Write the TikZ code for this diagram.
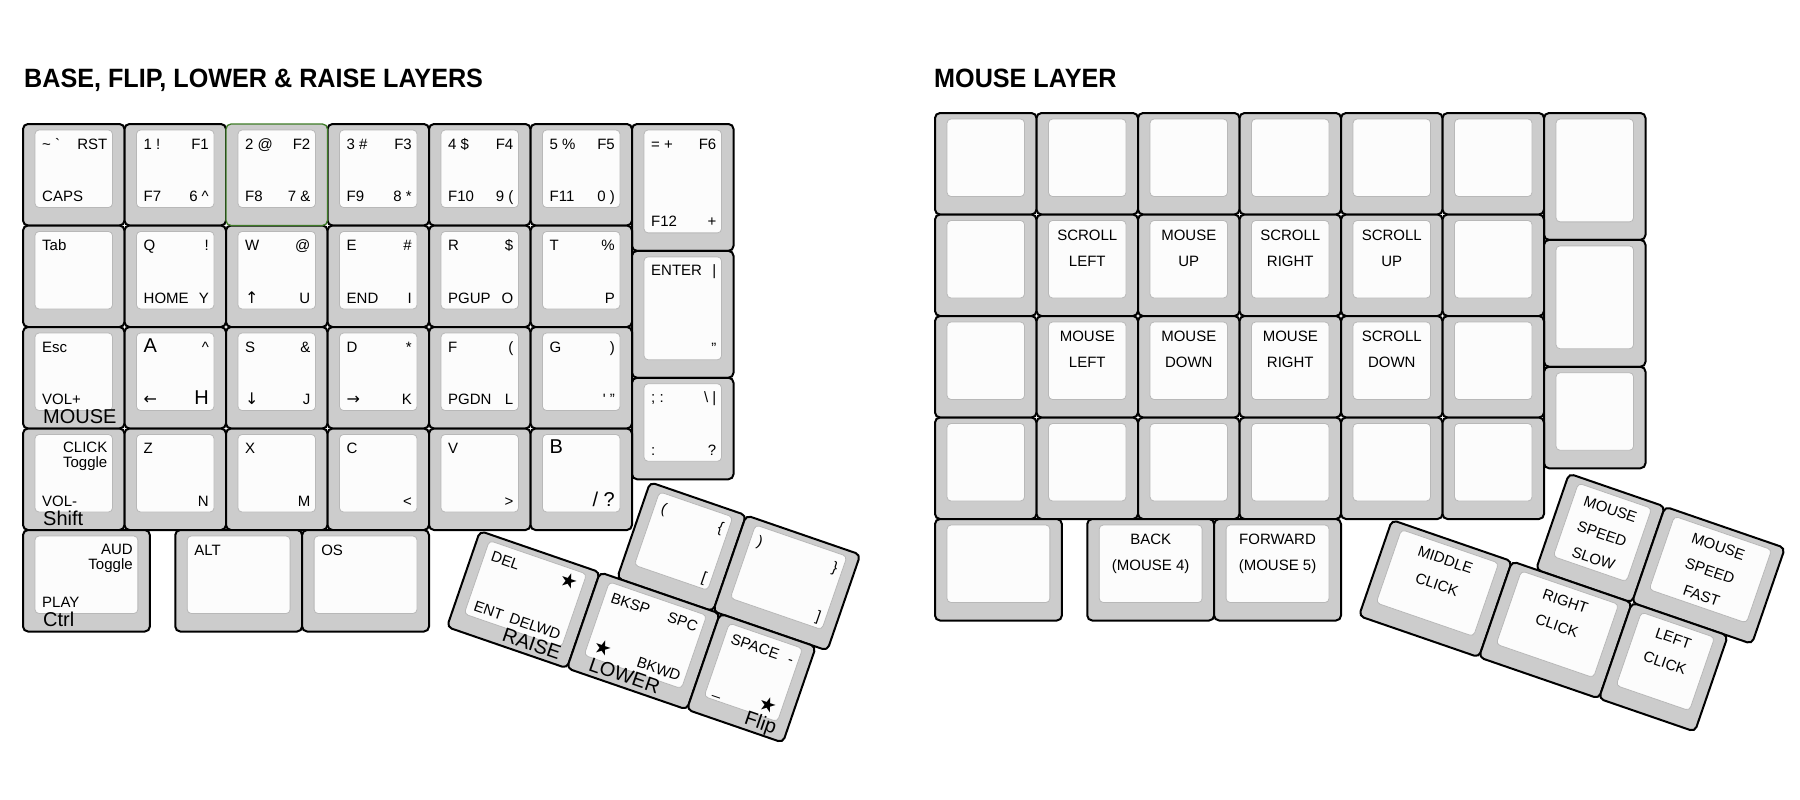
\documentclass[tikz,border=0pt]{standalone}
\usepackage{fontspec}
\usepackage{graphicx}
\setmainfont{Liberation Sans}
\newfontfamily\starfont{DejaVu Sans}
\usepackage{tikz}
\usetikzlibrary{positioning}

\definecolor{capgray}{HTML}{CCCCCC}
\definecolor{topwhite}{HTML}{FCFCFC}
\definecolor{selgreen}{HTML}{3E7B27}

\newcommand{\ku}{101.5}% one key unit, px
% key: [style]{name}{x}{y}{width}{height}{legends}, x/y = top-left corner
\newcommand{\keycap}[7][keybody]{%
  \begin{scope}[shift={(#3,#4)}]
    \pgfmathsetmacro{\kw}{#5*\ku}
    \pgfmathsetmacro{\kh}{#6*\ku}
    \pgfmathsetmacro{\kiw}{\kw-24}
    \pgfmathsetmacro{\kih}{\kh-24}
    \def\kname{#2}
    \node[#1, minimum width=\kw, minimum height=\kh] (#2) at (\kw/2,\kh/2) {};
    \node[keytop, minimum width=\kiw, minimum height=\kih] (#2-top) at (\kw/2,\kh/2-6) {};
    #7
  \end{scope}}
% legends
\newcommand{\lgTL}[2][leg]{\node[#1, anchor=base west] (\kname-tl) at (19,25) {#2};}
\newcommand{\lgTR}[2][leg]{\node[#1, anchor=base east] (\kname-tr) at (\kw-17,25) {#2};}
\newcommand{\lgBL}[2][leg]{\node[#1, anchor=base west] (\kname-bl) at (19,\kh-24) {#2};}
\newcommand{\lgBR}[2][leg]{\node[#1, anchor=base east] (\kname-br) at (\kw-17,\kh-24) {#2};}
\newcommand{\lgFL}[1]{\node[front, anchor=base west] (\kname-fl) at (20,\kh-5) {#1};}
\newcommand{\lgFR}[1]{\node[front, anchor=base east] (\kname-fr) at (\kw-11,\kh-5) {#1};}
\newcommand{\lgTT}[2]{%
  \node[leg, anchor=base east] (\kname-tr) at (\kw-17,24) {#1};
  \node[leg, anchor=base east] (\kname-tr2) at (\kw-17,39) {#2};}
\newcommand{\lgC}[1]{%
  \foreach \lline [count=\ci] in {#1}
    {\node[leg, anchor=base] (\kname-c\ci) at (\kw/2,26*\ci-0.5) {\lline};}}

\begin{document}
\begin{tikzpicture}[
  x=1pt, y=-1pt,
  keybody/.style={rectangle, rounded corners=5pt, fill=capgray, draw=black, line width=2pt, inner sep=0pt, outer sep=0pt},
  keysel/.style={keybody, draw=selgreen, line width=1.3pt},
  keytop/.style={rectangle, rounded corners=4pt, fill=topwhite, draw=black!28, line width=0.8pt, inner sep=0pt},
  leg/.style={inner sep=0pt, text=black, font=\fontsize{15}{15}\selectfont},
  big/.style={leg, font=\fontsize{20}{20}\selectfont},
  front/.style={big},
  arr/.style={leg, font=\starfont\fontsize{16}{16}\selectfont},
  star/.style={leg, font=\starfont\fontsize{20}{20}\selectfont},
  ttl/.style={inner sep=0pt, anchor=base west, font=\fontsize{26.5}{30}\selectfont\bfseries}
]
\fill[white] (0,0) rectangle (1800,800);
\useasboundingbox (0,0) rectangle (1800,800);

% titles
\node[ttl] (title-left)  at (24,87.3)  {\scalebox{0.95}[1]{BASE, FLIP, LOWER \& RAISE LAYERS}};
\node[ttl] (title-right) at (934,87.3) {\scalebox{0.95}[1]{MOUSE LAYER}};

%% left half: base, flip, lower & raise
% row 0
\keycap{k-grave}{23}{124}{1}{1}{\lgTL{\textasciitilde\ \textasciigrave}\lgTR{RST}\lgBL{CAPS}}
\keycap{k-one}{124.5}{124}{1}{1}{\lgTL{1 !}\lgTR{F1}\lgBL{F7}\lgBR{6 \textasciicircum}}
\keycap{k-three}{327.5}{124}{1}{1}{\lgTL{3 \#}\lgTR{F3}\lgBL{F9}\lgBR{8 *}}
\keycap{k-four}{429}{124}{1}{1}{\lgTL{4 \$}\lgTR{F4}\lgBL{F10}\lgBR{9 (}}
\keycap{k-five}{530.5}{124}{1}{1}{\lgTL{5 \%}\lgTR{F5}\lgBL{F11}\lgBR{0 )}}
\keycap{k-equal}{632}{124}{1}{1.25}{\lgTL{= +}\lgTR{F6}\lgBL{F12}\lgBR{+}}
% row 1
\keycap{k-tab}{23}{225.5}{1}{1}{\lgTL{Tab}}
\keycap{k-q}{124.5}{225.5}{1}{1}{\lgTL{Q}\lgTR{!}\lgBL{HOME}\lgBR{Y}}
\keycap{k-w}{226}{225.5}{1}{1}{\lgTL{W}\lgTR{@}\lgBL[arr]{↑}\lgBR{U}}
\keycap{k-e}{327.5}{225.5}{1}{1}{\lgTL{E}\lgTR{\#}\lgBL{END}\lgBR{I}}
\keycap{k-r}{429}{225.5}{1}{1}{\lgTL{R}\lgTR{\$}\lgBL{PGUP}\lgBR{O}}
\keycap{k-t}{530.5}{225.5}{1}{1}{\lgTL{T}\lgTR{\%}\lgBR{P}}
\keycap{k-enter}{632}{250.875}{1}{1.25}{\lgTL{ENTER}\lgTR{|}\lgBR{"}}
% row 2
\keycap{k-esc}{23}{327}{1}{1}{\lgTL{Esc}\lgBL{VOL+}\lgFL{MOUSE}}
\keycap{k-a}{124.5}{327}{1}{1}{\lgTL[big]{A}\lgTR{\textasciicircum}\lgBL[arr]{←}\lgBR[big]{H}}
\keycap{k-s}{226}{327}{1}{1}{\lgTL{S}\lgTR{\&}\lgBL[arr]{↓}\lgBR{J}}
\keycap{k-d}{327.5}{327}{1}{1}{\lgTL{D}\lgTR{*}\lgBL[arr]{→}\lgBR{K}}
\keycap{k-f}{429}{327}{1}{1}{\lgTL{F}\lgTR{(}\lgBL{PGDN}\lgBR{L}}
\keycap{k-g}{530.5}{327}{1}{1}{\lgTL{G}\lgTR{)}\lgBR{\textquotesingle\ "}}
\keycap{k-semi}{632}{377.75}{1}{1}{\lgTL{; :}\lgTR{\textbackslash\ |}\lgBL{:}\lgBR{?}}
% row 3
\keycap{k-shift}{23}{428.5}{1}{1}{\lgTT{CLICK}{Toggle}\lgBL{VOL-}\lgFL{Shift}}
\keycap{k-z}{124.5}{428.5}{1}{1}{\lgTL{Z}\lgBR{N}}
\keycap{k-x}{226}{428.5}{1}{1}{\lgTL{X}\lgBR{M}}
\keycap{k-c}{327.5}{428.5}{1}{1}{\lgTL{C}\lgBR{<}}
\keycap{k-v}{429}{428.5}{1}{1}{\lgTL{V}\lgBR{>}}
\keycap{k-b}{530.5}{428.5}{1}{1}{\lgTL[big]{B}\lgBR[big]{/ ?}}
% row 4
\keycap{k-ctrl}{23}{530}{1.25}{1}{\lgTT{AUD}{Toggle}\lgBL{PLAY}\lgFL{Ctrl}}
\keycap{k-alt}{175.25}{530}{1.25}{1}{\lgTL{ALT}}
\keycap{k-os}{302.125}{530}{1.25}{1}{\lgTL{OS}}
% thumb cluster, tilted
\begin{scope}[shift={(480,531)}, rotate=-19, transform shape]
  \keycap{k-lparen}{145}{-101.5}{1}{1}{\lgTL{(}\lgTR{\{}\lgBR{[}}
  \keycap{k-rparen}{246.5}{-101.5}{1.19}{1}{\lgTL{)}\lgTR{\}}\lgBR{]}}
  \keycap{k-raise}{0}{0}{1.25}{1}{\lgTL{DEL}\lgTR[star]{★}\lgBL{ENT}\lgBR{DELWD}\lgFR{RAISE}}
  \keycap{k-lower}{126.875}{0}{1.25}{1}{\lgTL{BKSP}\lgTR{SPC}\lgBL[star]{★}\lgBR{BKWD}\lgFL{LOWER}}
  \keycap{k-flip}{253.75}{0}{1}{1}{\lgTL{SPACE}\lgTR{-}\lgBL{\_}\lgBR[star]{★}\lgFR{Flip}}
\end{scope}
% highlighted key, drawn last
\keycap[keysel]{k-two}{226}{124}{1}{1}{\lgTL{2 @}\lgTR{F2}\lgBL{F8}\lgBR{7 \&}}

%% right half: mouse layer
% row 0
\foreach \c in {0,...,5} {\keycap{m-a\c}{935+\c*101.5}{113}{1}{1}{}}
\keycap{m-a6}{1544}{113}{1}{1.25}{}
% row 1
\keycap{m-b0}{935}{214.5}{1}{1}{}
\keycap{m-b1}{1036.5}{214.5}{1}{1}{\lgC{SCROLL,LEFT}}
\keycap{m-b2}{1138}{214.5}{1}{1}{\lgC{MOUSE,UP}}
\keycap{m-b3}{1239.5}{214.5}{1}{1}{\lgC{SCROLL,RIGHT}}
\keycap{m-b4}{1341}{214.5}{1}{1}{\lgC{SCROLL,UP}}
\keycap{m-b5}{1442.5}{214.5}{1}{1}{}
\keycap{m-b6}{1544}{239.875}{1}{1.25}{}
% row 2
\keycap{m-c0}{935}{316}{1}{1}{}
\keycap{m-c1}{1036.5}{316}{1}{1}{\lgC{MOUSE,LEFT}}
\keycap{m-c2}{1138}{316}{1}{1}{\lgC{MOUSE,DOWN}}
\keycap{m-c3}{1239.5}{316}{1}{1}{\lgC{MOUSE,RIGHT}}
\keycap{m-c4}{1341}{316}{1}{1}{\lgC{SCROLL,DOWN}}
\keycap{m-c5}{1442.5}{316}{1}{1}{}
\keycap{m-c6}{1544}{366.75}{1}{1}{}
% row 3
\foreach \c in {0,...,5} {\keycap{m-d\c}{935+\c*101.5}{417.5}{1}{1}{}}
% row 4
\keycap{m-e0}{935}{519}{1.25}{1}{}
\keycap{m-back}{1087.25}{519}{1.25}{1}{\lgC{BACK,{(MOUSE 4)}}}
\keycap{m-fwd}{1214.125}{519}{1.25}{1}{\lgC{FORWARD,{(MOUSE 5)}}}
% thumb cluster, tilted
\begin{scope}[shift={(1392,520)}, rotate=-19, transform shape]
  \keycap{m-slow}{152.25}{-101.5}{1}{1}{\lgC{MOUSE,SPEED,SLOW}}
  \keycap{m-fast}{253.75}{-101.5}{1.25}{1}{\lgC{MOUSE,SPEED,FAST}}
  \keycap{m-middle}{0}{0}{1.25}{1}{\lgC{MIDDLE,CLICK}}
  \keycap{m-right}{126.875}{0}{1.25}{1}{\lgC{RIGHT,CLICK}}
  \keycap{m-left}{253.75}{0}{1}{1}{\lgC{LEFT,CLICK}}
\end{scope}
\end{tikzpicture}
\end{document}
